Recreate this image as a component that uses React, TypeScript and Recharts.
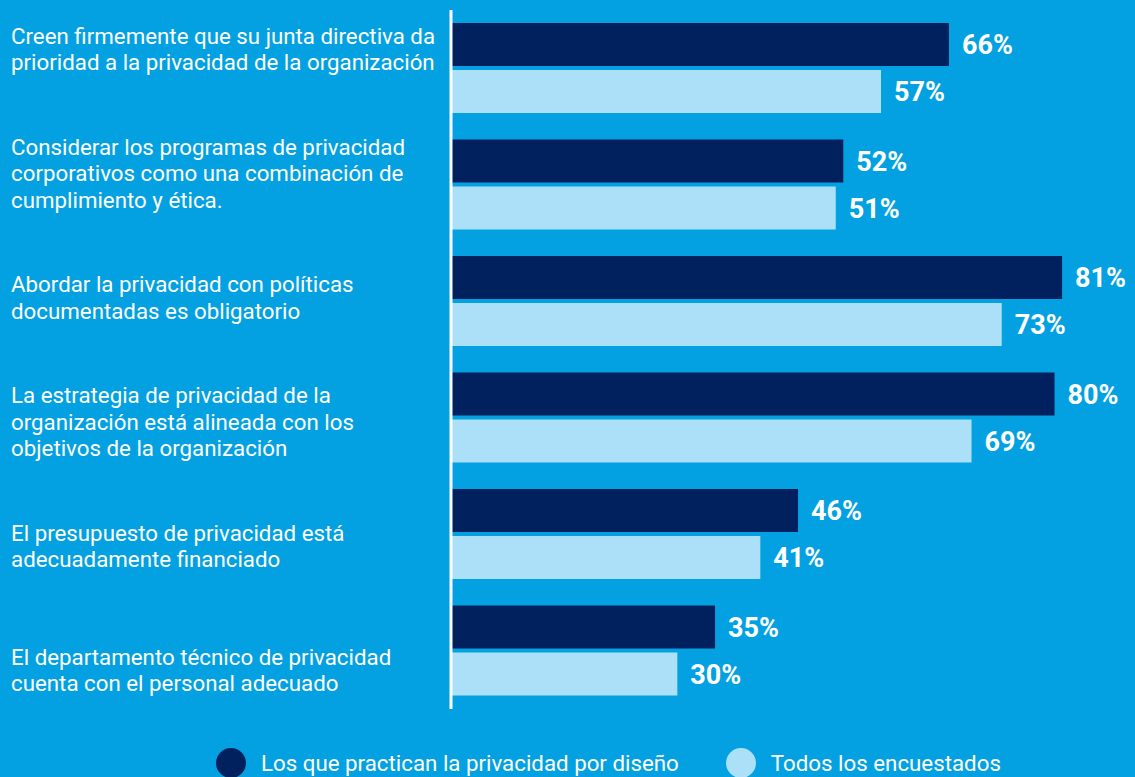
import React from "react"
import { Bar, BarChart, LabelList, Legend, XAxis, YAxis } from "recharts"

const CATEGORIES = [
  "Creen firmemente que su junta directiva da\nprioridad a la privacidad de la organización",
  "Considerar los programas de privacidad\ncorporativos como una combinación de\ncumplimiento y ética.",
  "Abordar la privacidad con políticas\ndocumentadas es obligatorio",
  "La estrategia de privacidad de la\norganización está alineada con los\nobjetivos de la organización",
  "El presupuesto de privacidad está\nadecuadamente financiado",
  "El departamento técnico de privacidad\ncuenta con el personal adecuado",
]
const PRIVACY_BY_DESIGN = [66, 52, 81, 80, 46, 35]
const ALL_RESPONDENTS = [57, 51, 73, 69, 41, 30]

const SERIES = [
  { key: "pbd", label: "Los que practican la privacidad por diseño", color: "#01205e" },
  { key: "all", label: "Todos los encuestados", color: "#abe0f8" },
]

const BG = "#03a1e1"
const FONT = "Roboto, 'Noto Sans', sans-serif"

// the text labels in the original sit on a slightly wider pitch than the bars
const LABEL_SPREAD = 1.066
const PLOT_MID = 359

const data = CATEGORIES.map((label, i) => ({
  label,
  pbd: PRIVACY_BY_DESIGN[i],
  all: ALL_RESPONDENTS[i],
}))

function CategoryTick({ y, payload }: any) {
  const lines = String(payload.value).split("\n")
  const lh = 26.5
  const start = -((lines.length - 1) * lh) / 2
  const cy = PLOT_MID + (y - PLOT_MID) * LABEL_SPREAD
  return (
    <text x={11} y={cy} fill="#fff" fontSize={22.3} fontFamily={FONT} textAnchor="start">
      {lines.map((l, i) => (
        <tspan key={i} x={11} dy={i === 0 ? start + 8 : lh}>
          {l}
        </tspan>
      ))}
    </text>
  )
}

function LegendContent() {
  return (
    <div style={{ display: "flex", paddingLeft: 216, gap: 47, fontFamily: FONT, color: "#fff", fontSize: 22.3 }}>
      {SERIES.map((s) => (
        <div key={s.key} style={{ display: "flex", alignItems: "center" }}>
          <span style={{ width: 30, height: 30, borderRadius: "50%", background: s.color, marginRight: 15 }} />
          <span>{s.label}</span>
        </div>
      ))}
    </div>
  )
}

export default function App() {
  return (
    <div style={{ position: "absolute", left: 0, top: 0, width: 1135, height: 777, background: BG, overflow: "hidden" }}>
      <BarChart
        width={1135}
        height={777}
        data={data}
        layout="vertical"
        margin={{ top: 10, right: 5, bottom: 38, left: 0 }}
        barSize={43}
        barGap={4}
      >
        <XAxis type="number" domain={[0, 90]} hide />
        <YAxis
          type="category"
          dataKey="label"
          width={451}
          axisLine={{ stroke: "#fff", strokeWidth: 3 }}
          tickLine={false}
          tick={<CategoryTick />}
          interval={0}
        />
        <Legend
          verticalAlign="bottom"
          content={<LegendContent />}
          wrapperStyle={{ position: "absolute", left: 0, top: 748, width: 1135 }}
        />
        {SERIES.map((s) => (
          <Bar key={s.key} dataKey={s.key} name={s.label} fill={s.color} isAnimationActive={false}>
            <LabelList
              dataKey={s.key}
              position="right"
              offset={13}
              formatter={(v: any) => `${v}%`}
              fill="#fff"
              fontSize={27}
              fontWeight={700}
              fontFamily={FONT}
            />
          </Bar>
        ))}
      </BarChart>
    </div>
  )
}
